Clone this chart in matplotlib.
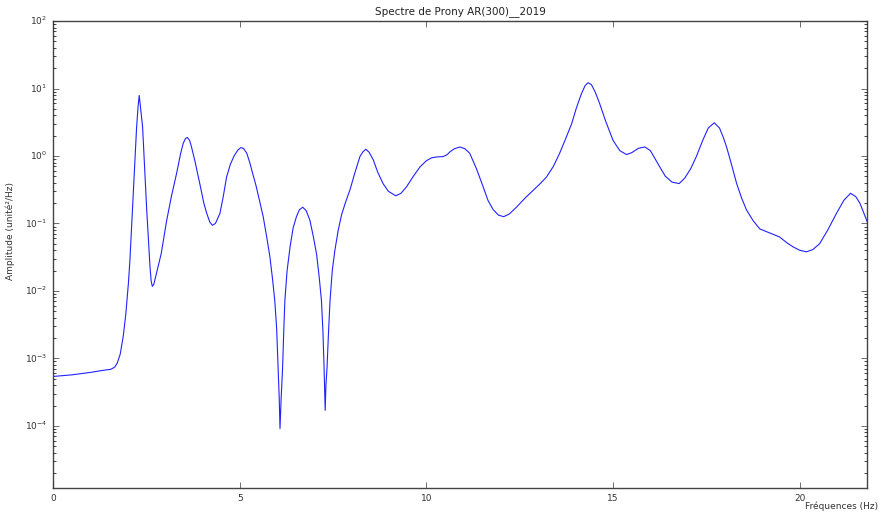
import matplotlib
matplotlib.use('Agg')
import matplotlib.pyplot as plt

freqs = [0.0, 0.5, 1.0, 1.3, 1.55, 1.65, 1.72, 1.80, 1.88, 1.95, 2.02, 2.06,
         2.15, 2.24, 2.28, 2.31, 2.34, 2.40, 2.51, 2.60, 2.63, 2.66, 2.70, 2.78,
         2.90, 3.04, 3.17, 3.31, 3.42, 3.49, 3.55, 3.60, 3.66, 3.71, 3.80, 3.94,
         4.04, 4.12, 4.20, 4.27, 4.35, 4.47, 4.56, 4.65, 4.75, 4.85, 4.95, 5.03,
         5.10, 5.19, 5.27, 5.36, 5.44, 5.53, 5.63, 5.72, 5.81, 5.88, 5.94, 5.99,
         6.03, 6.06, 6.08, 6.11, 6.15, 6.18, 6.21, 6.27, 6.35, 6.43, 6.52, 6.60,
         6.69, 6.78, 6.88, 6.97, 7.06, 7.13, 7.19, 7.23, 7.26, 7.29, 7.31, 7.34,
         7.38, 7.42, 7.48, 7.55, 7.64, 7.73, 7.84, 7.95, 8.08, 8.22, 8.30, 8.38,
         8.47, 8.58, 8.70, 8.84, 8.98, 9.18, 9.32, 9.47, 9.65, 9.83, 10.0, 10.14,
         10.30, 10.45, 10.55, 10.63, 10.75, 10.90, 11.03, 11.16, 11.34, 11.52, 11.65, 11.79,
         11.93, 12.07, 12.22, 12.42, 12.65, 12.86, 13.05, 13.22, 13.40, 13.57, 13.73, 13.89,
         14.02, 14.15, 14.25, 14.33, 14.42, 14.52, 14.64, 14.80, 15.0, 15.18, 15.36, 15.50,
         15.68, 15.85, 16.0, 16.12, 16.25, 16.40, 16.58, 16.77, 16.92, 17.08, 17.23, 17.40,
         17.55, 17.71, 17.85, 17.95, 18.04, 18.18, 18.31, 18.44, 18.57, 18.75, 18.93, 19.2,
         19.46, 19.65, 19.82, 20.0, 20.18, 20.35, 20.53, 20.75, 20.98, 21.18, 21.36, 21.50,
         21.61, 21.72, 21.81]
amps = [5.4e-4, 5.7e-4, 6.2e-4, 6.6e-4, 6.9e-4, 7.4e-4, 8.5e-4, 1.15e-3, 2.1e-3, 4.5e-3, 0.013, 0.028,
        0.275, 2.7, 5.5, 7.9, 5.5, 2.7, 0.16, 0.022, 0.014, 0.0117, 0.0125, 0.019,
        0.036, 0.107, 0.25, 0.55, 1.1, 1.55, 1.82, 1.88, 1.7, 1.36, 0.85, 0.37,
        0.2, 0.14, 0.105, 0.094, 0.1, 0.14, 0.25, 0.49, 0.75, 1.0, 1.22, 1.33,
        1.3, 1.1, 0.8, 0.52, 0.36, 0.22, 0.126, 0.065, 0.032, 0.015, 7.2e-3, 2.8e-3,
        7.4e-4, 2.5e-4, 9.1e-5, 2.5e-4, 7.4e-4, 2.5e-3, 7.2e-3, 0.02, 0.045, 0.085, 0.126, 0.16,
        0.174, 0.155, 0.112, 0.065, 0.035, 0.016, 7.2e-3, 2.5e-3, 7.4e-4, 1.7e-4, 4e-4, 7.4e-4,
        2.5e-3, 7.2e-3, 0.02, 0.04, 0.08, 0.135, 0.21, 0.31, 0.55, 0.98, 1.15, 1.26,
        1.13, 0.87, 0.57, 0.39, 0.3, 0.257, 0.28, 0.35, 0.5, 0.69, 0.85, 0.94,
        0.97, 0.98, 1.04, 1.15, 1.28, 1.36, 1.28, 1.1, 0.65, 0.35, 0.22, 0.16,
        0.133, 0.126, 0.138, 0.176, 0.24, 0.31, 0.39, 0.49, 0.7, 1.1, 1.8, 3.0,
        5.2, 8.3, 11.0, 12.2, 11.4, 8.9, 6.0, 3.3, 1.7, 1.2, 1.05, 1.12,
        1.3, 1.36, 1.2, 0.92, 0.69, 0.5, 0.41, 0.39, 0.47, 0.65, 0.98, 1.7,
        2.6, 3.1, 2.6, 1.9, 1.36, 0.72, 0.39, 0.24, 0.16, 0.11, 0.083, 0.072,
        0.063, 0.052, 0.045, 0.04, 0.038, 0.041, 0.05, 0.08, 0.14, 0.22, 0.28, 0.25,
        0.2, 0.14, 0.105]
yticks = [1e-4, 1e-3, 1e-2, 1e-1, 1e0, 1e1, 1e2]

plt.style.use('classic')
fig = plt.figure(figsize=(8.8, 5.13), dpi=100, facecolor='white')
ax = fig.add_axes([0.0602, 0.0487, 0.925, 0.9103])

ax.semilogy(freqs, amps, color='#2222ff', linewidth=0.8)
ax.set_xlim(0, 21.8)
ax.set_ylim(1.2e-5, 100)
ax.set_xticks([0, 5, 10, 15, 20])
ax.set_yticks(yticks)
ax.tick_params(labelsize=6.5, colors='#333333')
for s in ax.spines.values():
    s.set_color('#444444')

ax.set_title("Spectre de Prony AR(300)__2019", fontsize=7.5, color='#222222')
ax.set_ylabel("Amplitude (unité²/Hz)", fontsize=6.5, color='#333333')
ax.yaxis.set_label_coords(-0.047, 0.55)
fig.text(0.998, 0.014, "Fréquences (Hz)", ha='right', va='center', fontsize=6.5,
         color='#333333')

fig.savefig('out.png', dpi=100, facecolor='white')
